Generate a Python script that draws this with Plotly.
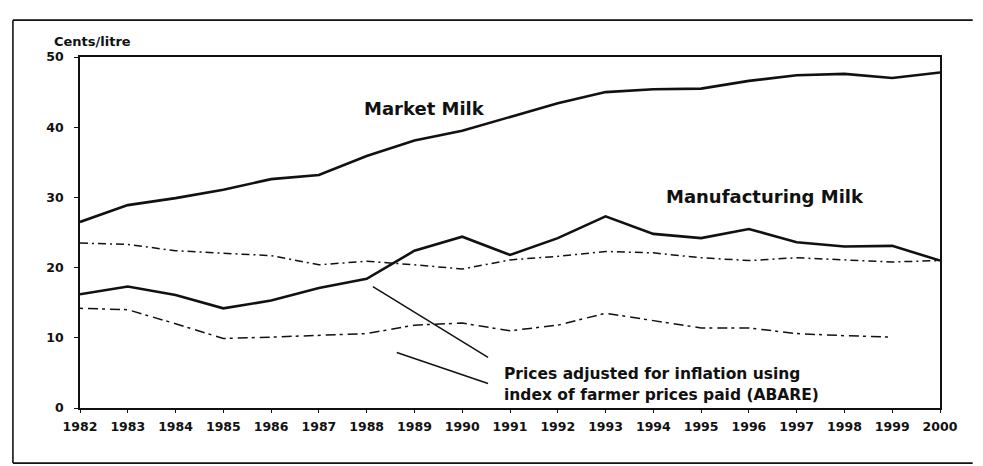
import plotly.graph_objects as go

years = list(range(1982, 2001))
market_milk = [26.5, 28.9, 29.9, 31.1, 32.6, 33.2, 35.9, 38.1, 39.5, 41.5, 43.4, 45.0,
               45.4, 45.5, 46.6, 47.4, 47.6, 47.0, 47.8]
manufacturing_milk = [16.2, 17.3, 16.1, 14.2, 15.3, 17.1, 18.4, 22.4, 24.4, 21.8, 24.2, 27.3,
                      24.8, 24.2, 25.5, 23.6, 23.0, 23.1, 21.0]
market_adjusted = [23.5, 23.3, 22.4, 22.0, 21.7, 20.4, 20.9, 20.4, 19.8, 21.1, 21.6, 22.3,
                   22.1, 21.4, 21.0, 21.4, 21.1, 20.8, 21.0]
manufacturing_adjusted = [14.2, 14.0, 12.0, 9.9, 10.1, 10.3, 10.6, 11.8, 12.1, 11.0, 11.8, 13.5,
                          12.4, 11.4, 11.4, 10.6, 10.3, 10.1, None]

y_ticks = [0, 10, 20, 30, 40, 50]
x_ticks = years

label_market = "Market Milk"
label_manufacturing = "Manufacturing Milk"
note_lines = ["Prices adjusted for inflation using", "index of farmer prices paid (ABARE)"]
y_title = "Cents/litre"

# leader lines from the note to the two adjusted series (data coordinates)
pointers = [((1988.13, 17.3), (1990.54, 7.2)), ((1988.63, 7.9), (1990.54, 3.5))]

FONT = "DejaVu Sans"
INK = "#111111"

fig = go.Figure()
fig.add_trace(go.Scatter(x=years, y=market_milk, mode="lines",
                         line=dict(color=INK, width=2.6), name=label_market))
fig.add_trace(go.Scatter(x=years, y=manufacturing_milk, mode="lines",
                         line=dict(color=INK, width=2.6), name=label_manufacturing))
fig.add_trace(go.Scatter(x=years, y=market_adjusted, mode="lines",
                         line=dict(color=INK, width=1.5, dash="8px,4px,2px,4px"),
                         name="Market adjusted"))
fig.add_trace(go.Scatter(x=years, y=manufacturing_adjusted, mode="lines",
                         line=dict(color=INK, width=1.5, dash="3px,5px,10px,4px"),
                         name="Manufacturing adjusted"))

for (x0, y0), (x1, y1) in pointers:
    fig.add_shape(type="line", xref="x", yref="y", x0=x0, y0=y0, x1=x1, y1=y1,
                  line=dict(color=INK, width=1.5))

# outer scanned frame: left, top and bottom edges (right edge lies outside the page)
FL, FR, FT, FB = -0.078, 1.038, 1.105, -0.157
for x0, y0, x1, y1 in [(FL, FB, FL, FT), (FL, FT, FR, FT), (FL, FB, FR, FB)]:
    fig.add_shape(type="line", xref="paper", yref="paper", x0=x0, y0=y0, x1=x1, y1=y1,
                  line=dict(color=INK, width=1.6))

fig.add_annotation(x=1989.22, y=42.7, xref="x", yref="y", text=label_market,
                   showarrow=False, font=dict(family=FONT, size=18, color=INK, weight="bold"))
fig.add_annotation(x=1996.34, y=30.2, xref="x", yref="y", text=label_manufacturing,
                   showarrow=False, font=dict(family=FONT, size=18, color=INK, weight="bold"))
for txt, yv in zip(note_lines, [4.9, 1.8]):
    fig.add_annotation(x=1990.83, y=yv, xref="x", yref="y", text=txt, xanchor="left",
                       showarrow=False, font=dict(family=FONT, size=15.5, color=INK, weight="bold"))
fig.add_annotation(x=-0.0326, y=1.071, xref="paper", yref="paper", text=y_title,
                   xanchor="left", showarrow=False,
                   font=dict(family=FONT, size=13, color=INK, weight="bold"))

fig.update_xaxes(range=[1982, 2000], tickvals=x_ticks, ticktext=[str(y) for y in x_ticks],
                 showgrid=False, zeroline=False, showline=True, linecolor=INK, linewidth=1.6,
                 mirror=True, ticks="outside", ticklen=3, tickcolor=INK, ticklabelstandoff=3,
                 tickfont=dict(family=FONT, size=12.5, color=INK, weight="bold"))
fig.update_yaxes(range=[0, 50], tickvals=y_ticks,
                 showgrid=False, zeroline=False, showline=True, linecolor=INK, linewidth=1.6,
                 mirror=True, ticks="outside", ticklen=4, tickcolor=INK, ticklabelstandoff=8,
                 tickfont=dict(family=FONT, size=12.5, color=INK, weight="bold"))

fig.update_layout(width=983, height=466, showlegend=False,
                  margin=dict(l=72, r=51, t=49, b=66),
                  paper_bgcolor="white", plot_bgcolor="white",
                  font=dict(family=FONT, color=INK))

fig.write_html("out.html")
